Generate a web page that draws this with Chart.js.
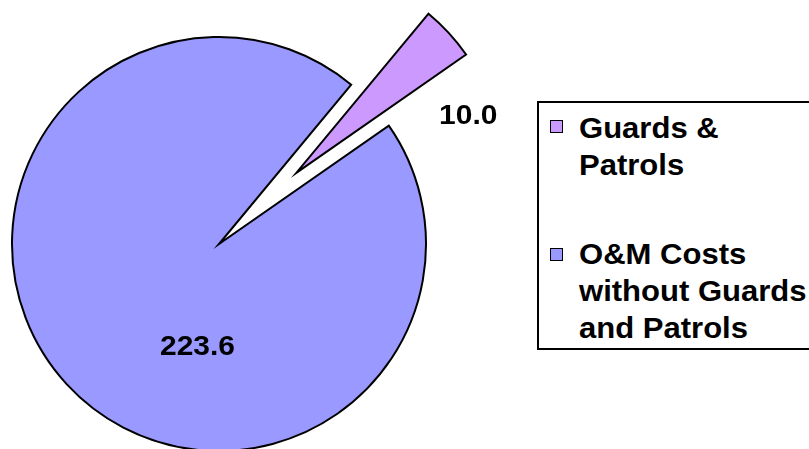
<!DOCTYPE html>
<html>
<head>
<meta charset="utf-8">
<script src="https://cdn.jsdelivr.net/npm/chart.js@4/dist/chart.umd.min.js"></script>
<style>
  body { margin: 0; background: #fff; overflow: hidden; }
  #wrap { position: relative; width: 809px; height: 449px; overflow: hidden; }
  #costChart { position: absolute; left: 0; top: 0; }
  #legendBox {
    position: absolute; left: 537px; top: 101px; width: 300px; height: 245px;
    border: 2px solid #000; background: #fff;
    font-family: "Liberation Sans", Arial, sans-serif; font-weight: bold; font-size: 29px; color: #000;
  }
  .item { position: absolute; left: 40px; line-height: 37px; white-space: nowrap;
          transform: scaleX(1.07); transform-origin: left top; }
  .swatch { position: absolute; left: 11px; width: 11px; height: 11px; border: 1.5px solid #000; }
</style>
</head>
<body>
<div id="wrap">
  <canvas id="costChart" width="809" height="449"></canvas>
  <div id="legendBox"></div>
</div>
<script>
// chart data
const categories = ['Guards & Patrols', 'O&M Costs without Guards and Patrols'];
const legendLines = [['Guards &', 'Patrols'], ['O&M Costs', 'without Guards', 'and Patrols']];
const costValues = [10.0, 223.6];
const sliceColors = ['#CC99FF', '#9999FF'];

// how far the first slice is pulled out of the pie (px)
const explode = [105, 0];
// where the value labels sit: angle (deg, canvas) and distance as a share of the radius
const labelSpots = [{ angle: -18.3, dist: 0.875 }, { angle: 101.8, dist: 0.508 }];

const explodePlugin = {
    id: 'explode',
    afterDatasetsUpdate(chart) {
        const arcs = chart.getDatasetMeta(0).data;
        arcs.forEach((arc, i) => {
            if (!explode[i]) return;
            const mid = (arc.startAngle + arc.endAngle) / 2;
            arc.x += Math.cos(mid) * explode[i];
            arc.y += Math.sin(mid) * explode[i];
        });
    }
};

const valueLabels = {
    id: 'valueLabels',
    afterDatasetsDraw(chart) {
        const ctx = chart.ctx;
        const arcs = chart.getDatasetMeta(0).data;
        arcs.forEach((arc, i) => {
            const spot = labelSpots[i];
            const a = spot.angle * Math.PI / 180;
            const r = arc.outerRadius * spot.dist;
            ctx.save();
            ctx.translate(arc.x + Math.cos(a) * r, arc.y + Math.sin(a) * r);
            ctx.scale(1.07, 1);   // text in the original is a little wide
            ctx.font = 'bold 28px "Liberation Sans", Arial, sans-serif';
            ctx.fillStyle = '#000';
            ctx.textAlign = 'center';
            ctx.textBaseline = 'middle';
            ctx.fillText(costValues[i].toFixed(1), 0, 0);
            ctx.restore();
        });
    }
};

new Chart(document.getElementById('costChart'), {
    type: 'pie',
    data: {
        labels: categories,
        datasets: [{
            data: costValues,
            backgroundColor: sliceColors,
            borderColor: '#000',
            borderWidth: 2,
            borderJoinStyle: 'miter'
        }]
    },
    options: {
        responsive: false,
        animation: false,
        rotation: 39.7,
        radius: 207,
        layout: { padding: { left: 0, right: 371, top: 39, bottom: 0 } },
        plugins: {
            legend: { display: false },
            tooltip: { enabled: false }
        },
        events: []
    },
    plugins: [explodePlugin, valueLabels]
});

// legend box, built from the same arrays
const box = document.getElementById('legendBox');
const itemTops = [7, 133];
const swatchTops = [17, 145];
legendLines.forEach((lines, i) => {
    const sw = document.createElement('div');
    sw.className = 'swatch';
    sw.style.top = swatchTops[i] + 'px';
    sw.style.background = sliceColors[i];
    box.appendChild(sw);
    const it = document.createElement('div');
    it.className = 'item';
    it.style.top = itemTops[i] + 'px';
    it.innerHTML = lines.map(l => l.replace(/&/g, '&amp;')).join('<br>');
    box.appendChild(it);
});
</script>
</body>
</html>
